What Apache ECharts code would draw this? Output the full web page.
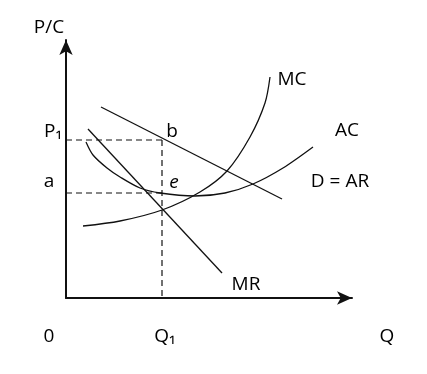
<!DOCTYPE html>
<html><head><meta charset="utf-8">
<script src="https://cdn.jsdelivr.net/npm/echarts@6/dist/echarts.min.js"></script>
<style>html,body{margin:0;padding:0;background:#fff}#c{width:427px;height:374px}</style>
</head><body><div id="c"></div>
<script>
// Values (Q along x, P/C along y)
const demandAR = [[35, 191], [216, 99]];
const marginalRevenue = [[22, 169], [156, 25]];
const averageCost = [[20, 156], [27, 143], [41, 130], [54, 121], [74, 110], [94, 105], [129, 102], [159, 105], [187, 114], [217, 130], [247, 151]];
const marginalCost = [[17, 72], [54, 77], [96, 88], [134, 106], [161, 127], [184, 161], [199, 195], [204, 221]];
const q1 = 96, p1 = 158, aLevel = 105;
const dashP1 = [[0, p1], [q1, p1]];
const dashQ1 = [[q1, p1], [q1, 0]];
const dashA = [[0, aLevel], [q1, aLevel]];

const chart = echarts.init(document.getElementById('c'), null, {renderer: 'canvas'});
const FONT = '"Open Sans", "Noto Sans", "Liberation Sans", sans-serif';
const lineStyle = {color: '#111', width: 1.3};
const dashStyle = {color: '#111', width: 1.2, type: [6, 4]};
function ser(data, style, smooth) {
  return {type: 'line', data: data, symbol: 'none', smooth: smooth || false,
    lineStyle: style, silent: true, animation: false, z: 3};
}
function txt(x, y, s, extra) {
  return {type: 'text', x: x, y: y, style: Object.assign({text: s, fill: '#000', font: '19px ' + FONT, textAlign: 'center', textVerticalAlign: 'middle'}, extra || {})};
}
chart.setOption({
  animation: false,
  grid: {left: 66, top: 40, width: 286, height: 258, containLabel: false},
  xAxis: {type: 'value', min: 0, max: 286, splitLine: {show: false}, axisTick: {show: false}, axisLabel: {show: false},
    axisLine: {show: true, lineStyle: {color: '#111', width: 2}, symbol: ['none', 'arrow'], symbolSize: [10, 15]}},
  yAxis: {type: 'value', min: 0, max: 258, splitLine: {show: false}, axisTick: {show: false}, axisLabel: {show: false},
    axisLine: {show: true, lineStyle: {color: '#111', width: 2}, symbol: ['none', 'arrow'], symbolSize: [10, 15]}},
  series: [
    ser(dashP1, dashStyle), ser(dashQ1, dashStyle), ser(dashA, dashStyle),
    ser(demandAR, lineStyle), ser(marginalRevenue, lineStyle),
    ser(averageCost, lineStyle, 0.3), ser(marginalCost, lineStyle, 0.3)
  ],
  graphic: [
    txt(49, 28, 'P/C'),
    txt(53, 132, 'P₁'),
    txt(49, 182, 'a'),
    txt(172, 132, 'b'),
    txt(174, 183, 'e', {font: 'italic 19px ' + FONT}),
    txt(292, 80, 'MC'),
    txt(347, 131, 'AC'),
    txt(340, 182, 'D = AR'),
    txt(246, 285, 'MR'),
    txt(49, 337, '0'),
    txt(165, 337, 'Q₁'),
    txt(387, 337, 'Q')
  ]
});
</script></body></html>
